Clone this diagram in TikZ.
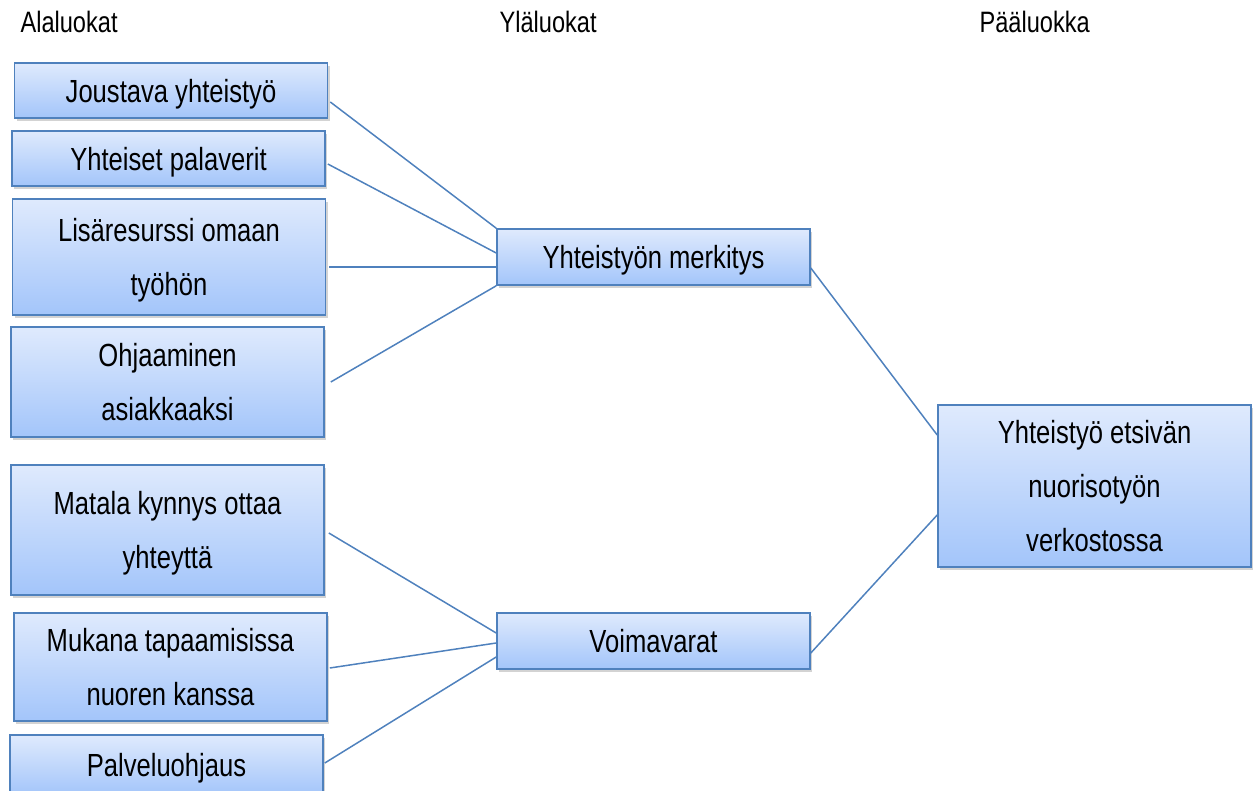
\documentclass[tikz,border=0pt]{standalone}
\usepackage{fontspec}
\setmainfont{Liberation Sans}[FakeStretch=0.8]
\usetikzlibrary{calc,shadows}

\definecolor{boxtop}{RGB}{223,234,253}
\definecolor{boxbottom}{RGB}{163,197,250}
\definecolor{boxline}{RGB}{79,129,189}

\begin{document}
\begin{tikzpicture}[x=1pt,y=-1pt,
  box/.style={draw=boxline, line width=1.6pt, top color=boxtop, bottom color=boxbottom,
    drop shadow={shadow xshift=2pt, shadow yshift=-3pt, opacity=0.35},
    inner sep=0pt, align=center, minimum width=313pt, text depth=0pt,
    font=\fontsize{32}{54}\selectfont},
  head/.style={anchor=base west, font=\fontsize{29.5}{36}\selectfont},
  link/.style={draw=boxline, line width=1.5pt}]

\useasboundingbox (0,0) rectangle (1255,791);

% headings
\node[head] (hala) at (17,33) {Alaluokat};
\node[head] (hyla) at (496,33) {Yläluokat};
\node[head] (hpaa) at (976,33) {Pääluokka};

% sub-categories
\node[box, minimum height=55pt] (joustava) at (171,90.5) {Joustava yhteistyö};
\node[box, minimum height=55pt] (palaverit) at (168.5,158.5) {Yhteiset palaverit};
\node[box, minimum height=116pt] (resurssi) at (169,257) {Lisäresurssi omaan\\työhön};
\node[box, minimum height=110pt] (ohjaaminen) at (167.5,382) {Ohjaaminen\\asiakkaaksi};
\node[box, minimum height=130pt] (kynnys) at (167.5,530) {Matala kynnys ottaa\\yhteyttä};
\node[box, minimum height=108pt] (mukana) at (170.5,667) {Mukana tapaamisissa\\nuoren kanssa};
\node[box, minimum height=60pt] (ohjaus) at (166.5,765) {Palveluohjaus};

% upper categories
\node[box, minimum height=56pt] (merkitys) at (653.5,257) {Yhteistyön merkitys};
\node[box, minimum height=56pt] (voimavarat) at (653.5,641) {Voimavarat};

% main category
\node[box, minimum height=162pt] (verkosto) at (1094.5,486) {Yhteistyö etsivän\\nuorisotyön\\verkostossa};

% connectors
\draw[link] ($(joustava.east)+(2,11.5)$) -- (merkitys.north west);
\draw[link] ($(palaverit.east)+(2,5.5)$) -- ($(merkitys.west)+(0,-4)$);
\draw[link] ($(resurssi.east)+(3,10)$) -- ($(merkitys.west)+(0,10)$);
\draw[link] ($(ohjaaminen.east)+(6,0)$) -- (merkitys.south west);

\draw[link] ($(kynnys.east)+(4,3)$) -- ($(voimavarat.west)+(0,-8)$);
\draw[link] ($(mukana.east)+(2,1)$) -- ($(voimavarat.west)+(0,2)$);
\draw[link] ($(ohjaus.east)+(1,-2)$) -- ($(voimavarat.west)+(0,16)$);

\draw[link] ($(merkitys.east)+(0,11)$) -- ($(verkosto.west)+(0,-51)$);
\draw[link] ($(voimavarat.east)+(0,12)$) -- ($(verkosto.west)+(0,29)$);

\end{tikzpicture}
\end{document}
